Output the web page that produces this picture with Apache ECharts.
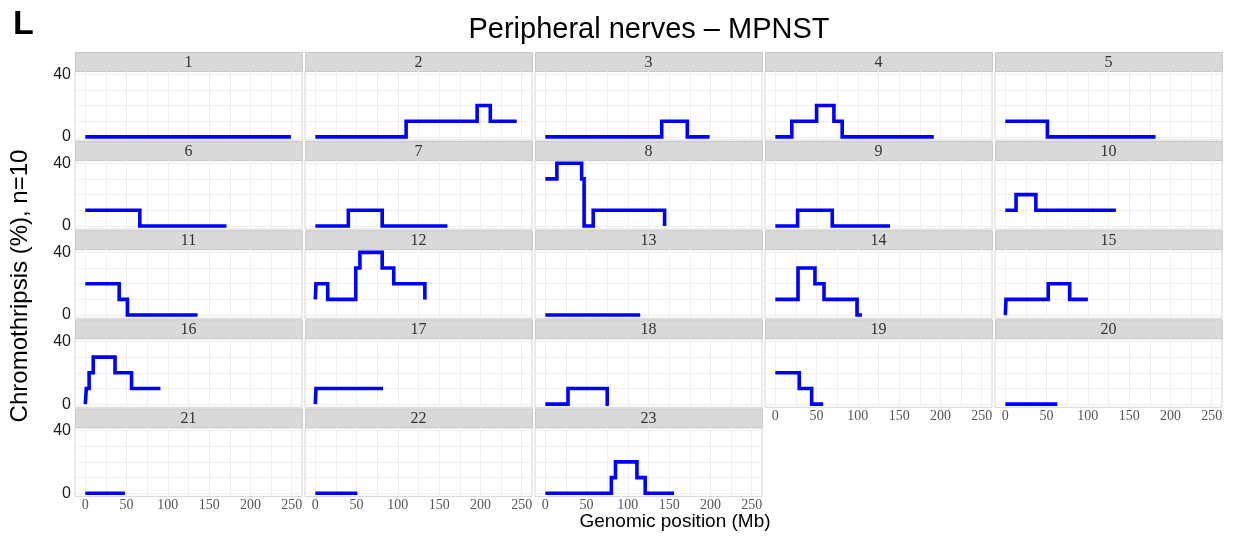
<!DOCTYPE html>
<html>
<head>
<meta charset="utf-8">
<script src="https://cdn.jsdelivr.net/npm/echarts@6/dist/echarts.min.js"></script>
<style>
  html, body { margin: 0; padding: 0; background: #fff; }
  #chart { width: 1235px; height: 538px; }
</style>
</head>
<body>
<div id="chart"></div>
<script>
// Chromosome panels (23 = X)
const chromosomes = ['1','2','3','4','5','6','7','8','9','10','11','12','13','14','15','16','17','18','19','20','21','22','23'];

// Start position (Mb) of each constant segment, per chromosome
const segmentStarts = [
  [0],
  [0, 110, 196, 212],
  [0, 141, 172],
  [0, 20, 50, 71, 81],
  [0, 51],
  [0, 66],
  [0, 40, 81],
  [0, 14, 44, 47, 58, 144.5],
  [0, 27, 69],
  [0, 13, 37],
  [0, 41, 51],
  [0, 0.8, 15, 49, 54, 81, 95, 132.7],
  [0],
  [0, 27.5, 48, 59, 99],
  [0, 0.8, 52, 78],
  [0, 1.2, 4.6, 9.6, 36, 56],
  [0, 0.8],
  [0, 27.5, 75],
  [0, 29, 44],
  [0],
  [0],
  [0],
  [0, 80, 85, 111, 121]
];

// Chromothripsis frequency (%) of each segment
const segmentValues = [
  [0],
  [0, 10, 20, 10],
  [0, 10, 0],
  [0, 10, 20, 10, 0],
  [10, 0],
  [10, 0],
  [0, 10, 0],
  [30, 40, 30, 0, 10, 0],
  [0, 10, 0],
  [10, 20, 10],
  [20, 10, 0],
  [10, 20, 10, 30, 40, 30, 20, 10],
  [0],
  [10, 30, 20, 10, 0],
  [0, 10, 20, 10],
  [0, 10, 20, 30, 20, 10],
  [0, 10],
  [0, 10, 0],
  [20, 10, 0],
  [0],
  [0],
  [0],
  [0, 10, 20, 10, 0]
];

// Chromosome end (Mb)
const chromosomeEnds = [249, 244, 199, 192, 182, 171, 160, 145, 139, 134, 136, 133.5, 115, 105, 100, 91, 82, 77, 58, 63, 48, 51, 156];

// Axis ticks
const xGridValues = [0, 25, 50, 75, 100, 125, 150, 175, 200, 225, 250];
const xTickLabels = [0, 50, 100, 150, 200, 250];
const yGridValues = [0, 10, 20, 30, 40];
const yTickLabels = [0, 40];

const NCOL = 5;
const PANEL_W = 227, PANEL_H = 69, STRIP_H = 19;
const colLeft = c => 75 + 230 * c;
const rowTop = r => 52 + 89.1 * r;

const grids = [], xAxes = [], yAxes = [], series = [], graphics = [];

chromosomes.forEach((name, i) => {
  const r = Math.floor(i / NCOL), c = i % NCOL;
  const left = colLeft(c), top = rowTop(r);
  // the lowest panel of each column carries the x labels
  const showX = (i + NCOL >= chromosomes.length);
  const showY = (c === 0);

  grids.push({
    left: left, top: top + STRIP_H, width: PANEL_W, height: PANEL_H,
    show: true, backgroundColor: '#fff', borderColor: '#d6d6d6', borderWidth: 1
  });
  xAxes.push({
    gridIndex: i, type: 'value', min: -12.5, max: 262.5,
    axisLine: { show: false },
    axisTick: { show: false, customValues: xGridValues },
    splitLine: { show: true, lineStyle: { color: '#efefef', width: 1 } },
    axisLabel: {
      show: showX, customValues: xTickLabels, margin: 2,
      fontFamily: 'Liberation Serif', fontSize: 14, color: '#555555'
    }
  });
  yAxes.push({
    gridIndex: i, type: 'value', min: -2, max: 42,
    axisLine: { show: false },
    axisTick: { show: false, customValues: yGridValues },
    splitLine: { show: true, lineStyle: { color: '#efefef', width: 1 } },
    axisLabel: {
      show: showY, customValues: yTickLabels, margin: 4,
      fontFamily: 'Liberation Sans', fontSize: 16, color: '#1a1a1a'
    }
  });

  const starts = segmentStarts[i], vals = segmentValues[i];
  const data = starts.map((s, k) => [s, vals[k]]);
  data.push([chromosomeEnds[i], vals[vals.length - 1]]);
  series.push({
    type: 'line', xAxisIndex: i, yAxisIndex: i, step: 'end',
    data: data, showSymbol: false, symbol: 'none', silent: true,
    lineStyle: { color: '#0000ff', width: 3.6, cap: 'butt', join: 'miter' },
    animation: false
  });

  // facet strip
  graphics.push({
    type: 'rect', left: left, top: top,
    shape: { width: PANEL_W, height: STRIP_H },
    style: { fill: '#d9d9d9', stroke: '#c8c8c8', lineWidth: 1 }
  });
  graphics.push({
    type: 'text', x: left + PANEL_W / 2, y: top + STRIP_H / 2 + 1,
    style: {
      text: name, textAlign: 'center', textVerticalAlign: 'middle',
      fontFamily: 'Liberation Serif', fontSize: 16, fill: '#333333'
    }
  });
});

graphics.push({
  type: 'text', x: 13, y: 25,
  style: { text: 'L', textVerticalAlign: 'middle', fontFamily: 'Liberation Sans', fontWeight: 'bold', fontSize: 34, fill: '#000' }
});
graphics.push({
  type: 'text', x: 649, y: 30,
  style: { text: 'Peripheral nerves \u2013 MPNST', textAlign: 'center', textVerticalAlign: 'middle', fontFamily: 'Liberation Sans', fontSize: 29, fill: '#000' }
});
graphics.push({
  type: 'text', x: 20, y: 286, rotation: Math.PI / 2,
  style: { text: 'Chromothripsis (%), n=10', textAlign: 'center', textVerticalAlign: 'middle', fontFamily: 'Liberation Sans', fontSize: 24, fill: '#000' }
});
graphics.push({
  type: 'text', x: 675, y: 522,
  style: { text: 'Genomic position (Mb)', textAlign: 'center', textVerticalAlign: 'middle', fontFamily: 'Liberation Sans', fontSize: 19, fill: '#000' }
});

const chart = echarts.init(document.getElementById('chart'), null, { renderer: 'canvas' });
chart.setOption({
  animation: false,
  backgroundColor: '#fff',
  grid: grids,
  xAxis: xAxes,
  yAxis: yAxes,
  series: series,
  graphic: graphics
});
</script>
</body>
</html>
